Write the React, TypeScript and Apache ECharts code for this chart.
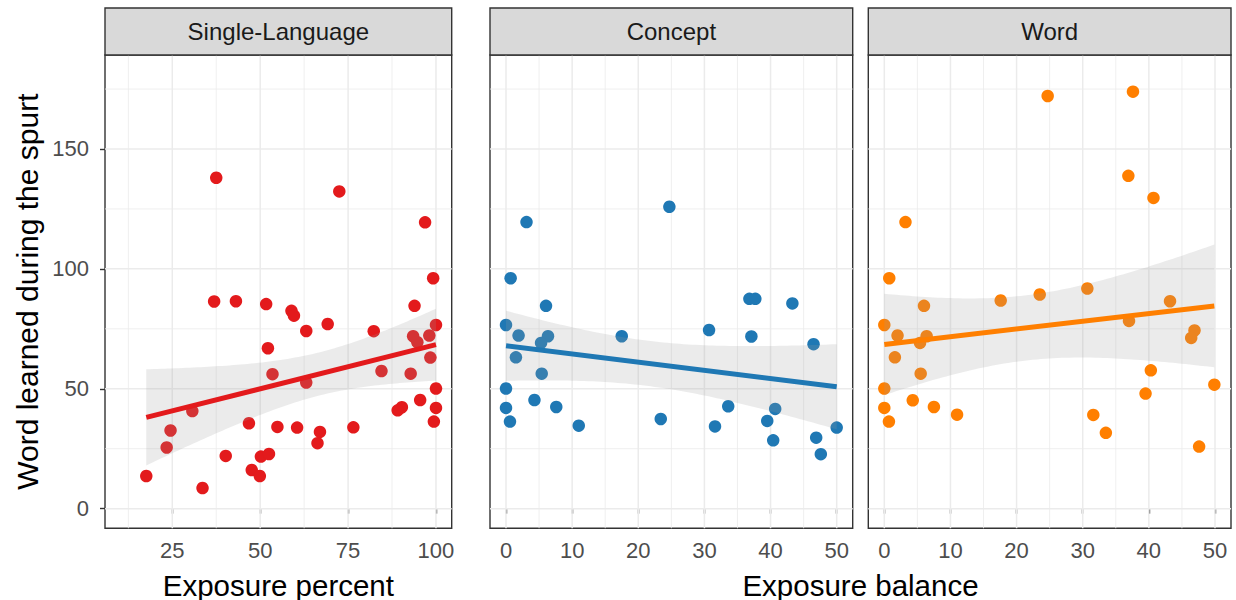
import React, { useEffect, useRef } from "react";
import * as echarts from "echarts";

const facetNames = ["Single-Language", "Concept", "Word"];
const facetColors = ["#E31A1C", "#1F78B4", "#FF7F00"];
const xTitles = ["Exposure percent", "Exposure balance"];
const yTitle = "Word learned during the spurt";

// Single-Language panel: exposure percent vs words learned
const singleX = [37.5, 72.5, 96.9, 99.2, 36.9, 43.1, 51.7, 58.9, 59.6, 93.9, 69.2, 63.1, 82.3, 100, 93.5, 94.7, 98.1, 52.2, 98.4, 53.5, 84.5, 92.8, 63.1, 100, 95.5, 30.7, 90.3, 89.1, 100, 99.4, 24.5, 46.8, 54.9, 60.5, 67.0, 76.5, 66.3, 23.4, 40.2, 50.2, 52.5, 47.6, 49.9, 17.6, 33.6];
const singleY = [138.0, 132.3, 119.4, 96.1, 86.4, 86.5, 85.3, 82.5, 80.5, 84.6, 77.0, 74.1, 74.0, 76.6, 71.9, 69.4, 72.2, 66.9, 63.0, 56.1, 57.4, 56.3, 52.6, 50.1, 45.3, 40.7, 42.3, 41.0, 42.0, 36.3, 32.6, 35.6, 34.1, 33.8, 32.0, 33.9, 27.3, 25.5, 22.0, 21.7, 22.8, 16.1, 13.6, 13.6, 8.6];

// Concept panel: exposure balance vs words learned
const conceptX = [3.1, 24.7, 0.7, 36.8, 37.7, 43.3, 6.05, 0, 30.7, 1.9, 6.35, 17.5, 37.1, 5.3, 46.5, 1.5, 5.4, 0, 4.3, 0, 7.6, 33.6, 40.7, 0.6, 11.0, 23.4, 31.6, 39.5, 50, 46.9, 40.4, 47.6];
const conceptY = [119.5, 125.9, 96.1, 87.5, 87.5, 85.6, 84.6, 76.6, 74.5, 72.2, 71.9, 71.9, 71.8, 69.1, 68.6, 63.1, 56.3, 50.1, 45.3, 42.0, 42.4, 42.7, 41.6, 36.3, 34.6, 37.4, 34.3, 36.6, 33.8, 29.6, 28.5, 22.7];

// Word panel: exposure balance vs words learned
const wordX = [24.7, 37.6, 36.9, 40.7, 3.2, 0.75, 30.7, 23.5, 17.6, 43.2, 6.0, 0, 37.0, 2.0, 6.4, 46.9, 46.4, 5.4, 1.6, 5.5, 40.3, 49.9, 0, 39.5, 4.3, 0, 7.5, 11.0, 31.6, 0.7, 33.5, 47.6];
const wordY = [172.1, 173.9, 138.8, 129.6, 119.5, 96.1, 91.8, 89.3, 86.8, 86.5, 84.6, 76.6, 78.3, 72.2, 71.9, 74.3, 71.2, 69.1, 63.1, 56.3, 57.7, 51.7, 50.1, 48.0, 45.2, 42.0, 42.4, 39.2, 39.1, 36.3, 31.6, 25.9];

const yTicks = [0, 50, 100, 150];
const yMinor = [25, 75, 125, 175];
const pctTicks = [25, 50, 75, 100];
const pctMinor = [12.5, 37.5, 62.5, 87.5];
const balTicks = [0, 10, 20, 30, 40, 50];
const balMinor = [5, 15, 25, 35, 45];

const FONT = "'Liberation Sans', Arial, Helvetica, sans-serif";

function tQuantile975(df: number) {
  const z = 1.959964;
  return (
    z +
    (z ** 3 + z) / (4 * df) +
    (5 * z ** 5 + 16 * z ** 3 + 3 * z) / (96 * df * df) +
    (3 * z ** 7 + 19 * z ** 5 + 17 * z ** 3 - 15 * z) / (384 * df ** 3)
  );
}

function linearFit(xs: number[], ys: number[]) {
  const n = xs.length;
  const mx = xs.reduce((s, v) => s + v, 0) / n;
  const my = ys.reduce((s, v) => s + v, 0) / n;
  let sxx = 0;
  let sxy = 0;
  for (let i = 0; i < n; i++) {
    sxx += (xs[i] - mx) ** 2;
    sxy += (xs[i] - mx) * (ys[i] - my);
  }
  const b = sxy / sxx;
  const a = my - b * mx;
  let sse = 0;
  for (let i = 0; i < n; i++) sse += (ys[i] - a - b * xs[i]) ** 2;
  const s = Math.sqrt(sse / (n - 2));
  const t = tQuantile975(n - 2);
  const x0 = Math.min(...xs);
  const x1 = Math.max(...xs);
  const band: { x: number; lo: number; hi: number }[] = [];
  const steps = 80;
  for (let i = 0; i <= steps; i++) {
    const x = x0 + ((x1 - x0) * i) / steps;
    const yhat = a + b * x;
    const se = s * Math.sqrt(1 / n + (x - mx) ** 2 / sxx);
    band.push({ x, lo: yhat - t * se, hi: yhat + t * se });
  }
  return {
    line: [
      [x0, a + b * x0],
      [x1, a + b * x1],
    ],
    band,
  };
}

export default function App() {
  const ref = useRef<HTMLDivElement>(null);

  useEffect(() => {
    if (!ref.current) return;
    const chart = echarts.init(ref.current, null, { renderer: "svg" });

    const panels = [
      { xs: singleX, ys: singleY, ticks: pctTicks, minor: pctMinor, xmin: 5.86, xmax: 104.47, left: 105, width: 346.7 },
      { xs: conceptX, ys: conceptY, ticks: balTicks, minor: balMinor, xmin: -2.42, xmax: 52.42, left: 490, width: 362.7 },
      { xs: wordX, ys: wordY, ticks: balTicks, minor: balMinor, xmin: -2.42, xmax: 52.42, left: 868.3, width: 362.7 },
    ];
    const top = 55;
    const height = 473.3;
    const ymin = -8.2;
    const ymax = 189.2;

    const grids: any[] = [];
    const xAxes: any[] = [];
    const yAxes: any[] = [];
    const series: any[] = [];
    const graphics: any[] = [];

    panels.forEach((p, k) => {
      grids.push({
        left: p.left,
        top,
        width: p.width,
        height,
        show: true,
        backgroundColor: "#FFFFFF",
        borderColor: "#333333",
        borderWidth: 1.4,
        containLabel: false,
      });
      xAxes.push({
        gridIndex: k,
        type: "value",
        min: p.xmin,
        max: p.xmax,
        axisLine: { show: false },
        axisTick: { show: true, customValues: p.ticks, length: 5, lineStyle: { color: "#333333", width: 1.4 } },
        axisLabel: { customValues: p.ticks, color: "#4D4D4D", fontSize: 22, fontFamily: FONT, margin: 11 },
        splitLine: { show: false },
      });
      yAxes.push({
        gridIndex: k,
        type: "value",
        min: ymin,
        max: ymax,
        axisLine: { show: false },
        axisTick: { show: k === 0, customValues: yTicks, length: 5, lineStyle: { color: "#333333", width: 1.4 } },
        axisLabel: { show: k === 0, customValues: yTicks, color: "#4D4D4D", fontSize: 22, fontFamily: FONT, margin: 16 },
        splitLine: { show: false },
      });

      // grid lines
      series.push({
        type: "custom",
        xAxisIndex: k,
        yAxisIndex: k,
        z: 1,
        silent: true,
        data: [[p.ticks[0], yTicks[0]]],
        renderItem: (params: any, api: any) => {
          const cs = params.coordSys;
          const children: any[] = [];
          const vline = (v: number, w: number) => {
            const px = api.coord([v, 0])[0];
            children.push({ type: "line", shape: { x1: px, y1: cs.y, x2: px, y2: cs.y + cs.height }, style: { stroke: "#EBEBEB", lineWidth: w } });
          };
          const hline = (v: number, w: number) => {
            const py = api.coord([p.ticks[0], v])[1];
            children.push({ type: "line", shape: { x1: cs.x, y1: py, x2: cs.x + cs.width, y2: py }, style: { stroke: "#EBEBEB", lineWidth: w } });
          };
          p.minor.forEach((v) => vline(v, 0.8));
          yMinor.forEach((v) => hline(v, 0.8));
          p.ticks.forEach((v) => vline(v, 1.5));
          yTicks.forEach((v) => hline(v, 1.5));
          return { type: "group", children };
        },
      });

      // points
      series.push({
        type: "scatter",
        xAxisIndex: k,
        yAxisIndex: k,
        z: 2,
        symbolSize: 12.5,
        itemStyle: { color: facetColors[k], opacity: 1 },
        data: p.xs.map((x, i) => [x, p.ys[i]]),
      });

      const fit = linearFit(p.xs, p.ys);
      // confidence band
      series.push({
        type: "custom",
        xAxisIndex: k,
        yAxisIndex: k,
        z: 3,
        silent: true,
        data: [[fit.band[0].x, fit.band[0].lo]],
        renderItem: (params: any, api: any) => {
          const upper = fit.band.map((b) => api.coord([b.x, b.hi]));
          const lower = fit.band.slice().reverse().map((b) => api.coord([b.x, b.lo]));
          return { type: "polygon", shape: { points: upper.concat(lower) }, style: { fill: "rgba(153,153,153,0.2)" } };
        },
      });
      // fit line
      series.push({
        type: "line",
        xAxisIndex: k,
        yAxisIndex: k,
        z: 4,
        silent: true,
        showSymbol: false,
        symbol: "none",
        lineStyle: { color: facetColors[k], width: 5 },
        data: fit.line,
      });

      // strip
      graphics.push({
        type: "rect",
        shape: { x: p.left, y: 8, width: p.width, height: 47 },
        style: { fill: "#D9D9D9", stroke: "#333333", lineWidth: 1.4 },
        z: 10,
      });
      graphics.push({
        type: "text",
        x: p.left + p.width / 2,
        y: 31.5,
        style: { text: facetNames[k], fontSize: 24, fontFamily: FONT, fill: "#1A1A1A", textAlign: "center", textVerticalAlign: "middle" },
        z: 11,
      });
    });

    graphics.push({
      type: "text",
      x: panels[0].left + panels[0].width / 2,
      y: 585,
      style: { text: xTitles[0], fontSize: 29.5, fontFamily: FONT, fill: "#000000", textAlign: "center", textVerticalAlign: "middle" },
    });
    graphics.push({
      type: "text",
      x: (panels[1].left + panels[2].left + panels[2].width) / 2,
      y: 585,
      style: { text: xTitles[1], fontSize: 29.5, fontFamily: FONT, fill: "#000000", textAlign: "center", textVerticalAlign: "middle" },
    });
    graphics.push({
      type: "text",
      x: 27,
      y: top + height / 2,
      rotation: Math.PI / 2,
      style: { text: yTitle, fontSize: 30, fontFamily: FONT, fill: "#000000", textAlign: "center", textVerticalAlign: "middle" },
    });

    chart.setOption({
      animation: false,
      backgroundColor: "#FFFFFF",
      grid: grids,
      xAxis: xAxes,
      yAxis: yAxes,
      series,
      graphic: graphics,
    });

    return () => chart.dispose();
  }, []);

  return <div ref={ref} style={{ position: "fixed", left: 0, top: 0, width: 1236, height: 600 }} />;
}
